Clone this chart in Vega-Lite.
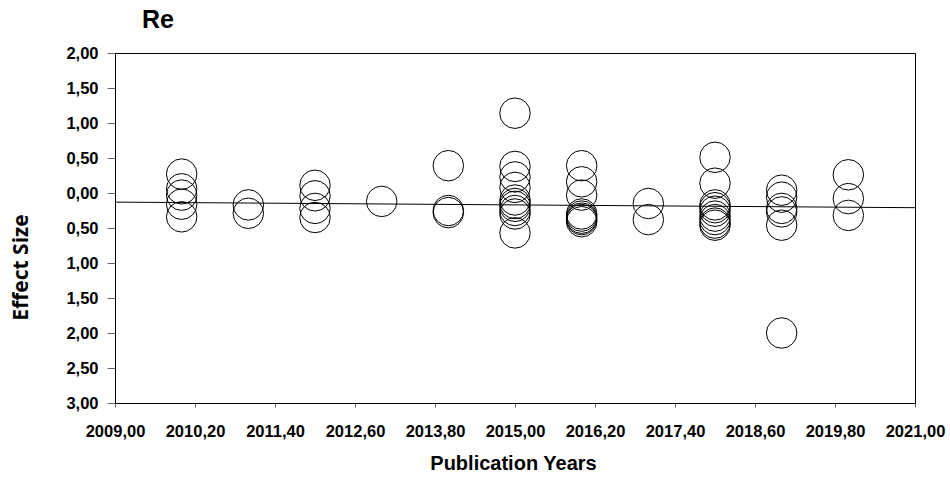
{
  "$schema": "https://vega.github.io/schema/vega-lite/v6.json",
  "autosize": {"type": "none"},
  "width": 800,
  "height": 350,
  "padding": {"left": 115, "top": 53, "right": 35, "bottom": 77},
  "background": "white",
  "title": {
    "text": "Re",
    "anchor": "start",
    "frame": "group",
    "dx": 27,
    "dy": 25,
    "offset": 17,
    "baseline": "alphabetic",
    "font": "Liberation Sans",
    "fontSize": 25,
    "fontWeight": "bold",
    "color": "#000"
  },
  "config": {
    "view": {"stroke": "#000", "strokeWidth": 1},
    "axis": {
      "grid": false,
      "domainColor": "#000",
      "domainWidth": 1,
      "tickColor": "#666",
      "labelFont": "Liberation Sans",
      "labelFontSize": 16.5,
      "labelFontWeight": "bold",
      "labelColor": "#000",
      "titleColor": "#000"
    }
  },
  "datasets": {
    "points": [
      {"year": 2010, "effect": 0.27}, {"year": 2010, "effect": 0.06}, {"year": 2010, "effect": -0.03}, {"year": 2010, "effect": -0.16}, {"year": 2010, "effect": -0.34},
      {"year": 2011, "effect": -0.17}, {"year": 2011, "effect": -0.29},
      {"year": 2012, "effect": 0.11}, {"year": 2012, "effect": -0.04}, {"year": 2012, "effect": -0.22}, {"year": 2012, "effect": -0.35},
      {"year": 2013, "effect": -0.12},
      {"year": 2014, "effect": 0.39}, {"year": 2014, "effect": -0.25}, {"year": 2014, "effect": -0.28},
      {"year": 2015, "effect": 1.14}, {"year": 2015, "effect": 0.38}, {"year": 2015, "effect": 0.23}, {"year": 2015, "effect": 0.08}, {"year": 2015, "effect": -0.10}, {"year": 2015, "effect": -0.15}, {"year": 2015, "effect": -0.19}, {"year": 2015, "effect": -0.25}, {"year": 2015, "effect": -0.30}, {"year": 2015, "effect": -0.57},
      {"year": 2016, "effect": 0.39}, {"year": 2016, "effect": 0.16}, {"year": 2016, "effect": -0.03}, {"year": 2016, "effect": -0.30}, {"year": 2016, "effect": -0.33}, {"year": 2016, "effect": -0.36}, {"year": 2016, "effect": -0.38}, {"year": 2016, "effect": -0.41},
      {"year": 2017, "effect": -0.15}, {"year": 2017, "effect": -0.38},
      {"year": 2018, "effect": 0.51}, {"year": 2018, "effect": 0.14}, {"year": 2018, "effect": -0.17}, {"year": 2018, "effect": -0.21}, {"year": 2018, "effect": -0.26}, {"year": 2018, "effect": -0.33}, {"year": 2018, "effect": -0.38}, {"year": 2018, "effect": -0.43}, {"year": 2018, "effect": -0.46},
      {"year": 2019, "effect": 0.04}, {"year": 2019, "effect": -0.06}, {"year": 2019, "effect": -0.22}, {"year": 2019, "effect": -0.27}, {"year": 2019, "effect": -0.46}, {"year": 2019, "effect": -2.0},
      {"year": 2020, "effect": 0.26}, {"year": 2020, "effect": -0.08}, {"year": 2020, "effect": -0.32}
    ],
    "fit": [
      {"year": 2009, "effect": -0.13},
      {"year": 2021, "effect": -0.21}
    ]
  },
  "encoding": {
    "x": {
      "field": "year",
      "type": "quantitative",
      "scale": {"domain": [2009, 2021], "nice": false, "zero": false},
      "axis": {
        "values": [2009, 2010.2, 2011.4, 2012.6, 2013.8, 2015, 2016.2, 2017.4, 2018.6, 2019.8, 2021],
        "labelExpr": "replace(format(datum.value, '.2f'), '.', ',')",
        "tickSize": 4,
        "labelPadding": 16,
        "labelFlush": false,
        "labelOverlap": false,
        "title": "Publication Years",
        "titleFont": "Liberation Sans",
        "titleFontSize": 20,
        "titleFontWeight": "bold",
        "titleBaseline": "alphabetic",
        "titleY": 66,
        "titleX": 398
      }
    },
    "y": {
      "field": "effect",
      "type": "quantitative",
      "scale": {"domain": [-3, 2], "nice": false, "zero": false},
      "axis": {
        "values": [-3, -2.5, -2, -1.5, -1, -0.5, 0, 0.5, 1, 1.5, 2],
        "tickCount": 11,
        "labelExpr": "replace(format(abs(datum.value), '.2f'), '.', ',')",
        "tickSize": 8,
        "labelPadding": 9,
        "labelFlush": false,
        "labelOverlap": false,
        "title": "Effect Size",
        "titleFont": "Open Sans",
        "titleFontSize": 21,
        "titleFontWeight": "bold",
        "titleAngle": -90,
        "titleBaseline": "alphabetic",
        "titleAlign": "center",
        "titleX": -88,
        "titleY": 214
      }
    }
  },
  "layer": [
    {
      "data": {"name": "fit"},
      "mark": {"type": "line", "color": "#000", "strokeWidth": 1}
    },
    {
      "data": {"name": "points"},
      "mark": {"type": "point", "shape": "circle", "filled": false, "stroke": "#000", "strokeWidth": 1, "opacity": 1, "size": 930}
    }
  ]
}
